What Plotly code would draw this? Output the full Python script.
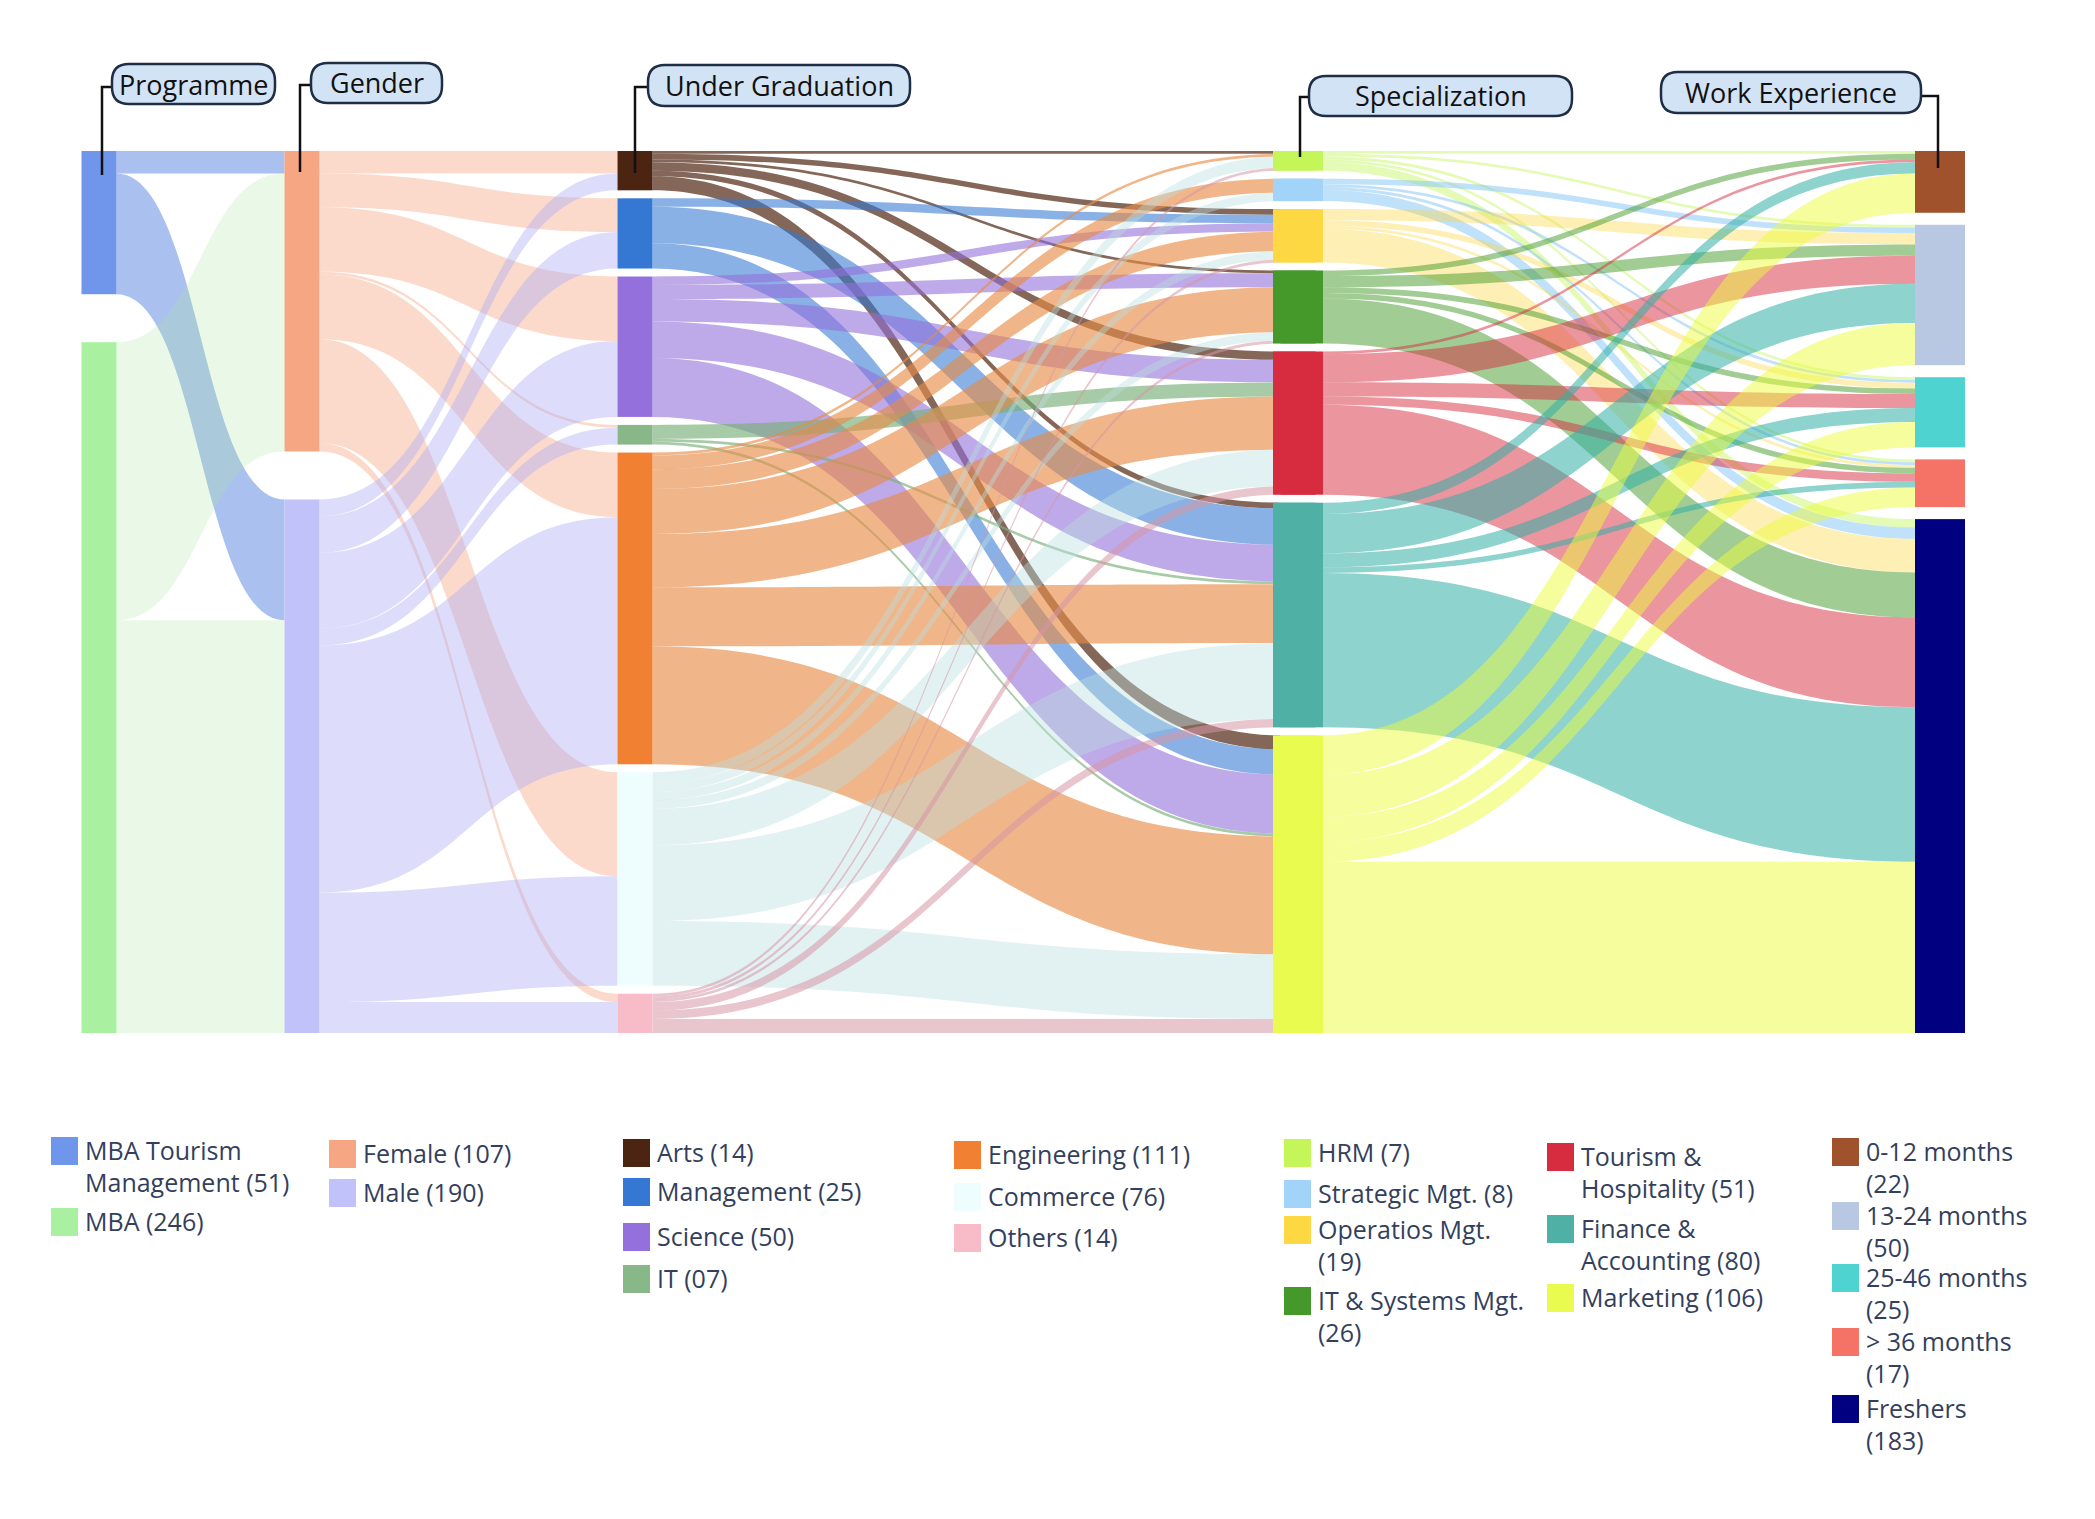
import plotly.graph_objects as go

# ---------------- data ----------------
programme = ["MBA Tourism Management", "MBA"]
gender = ["Female", "Male"]
under_graduation = ["Arts", "Management", "Science", "IT", "Engineering", "Commerce", "Others"]
specialization = ["HRM", "Strategic Mgt.", "Operatios Mgt.", "IT & Systems Mgt.",
                  "Tourism & Hospitality", "Finance & Accounting", "Marketing"]
work_experience = ["0-12 months", "13-24 months", "25-46 months", "> 36 months", "Freshers"]

# rows = source, columns = target
programme_to_gender = [[8, 43],
                       [99, 147]]
gender_to_ug = [[8, 12, 23, 1, 23, 37, 3],
                [6, 13, 27, 6, 88, 39, 11]]
ug_to_spec = [[1, 0, 2, 1, 3, 2, 5],        # Arts
              [0, 0, 3, 0, 0, 13, 9],       # Management
              [0, 0, 3, 5, 8, 13, 21],      # Science
              [0, 0, 0, 0, 5, 1, 1],        # IT
              [1, 5, 7, 16, 19, 21, 42],    # Engineering
              [4, 3, 3, 3, 13, 27, 23],     # Commerce
              [1, 0, 1, 1, 3, 3, 5]]        # Others
spec_to_work = [[1, 1, 1, 1, 3],            # HRM
                [0, 2, 1, 1, 4],            # Strategic
                [0, 4, 2, 1, 12],           # Operations
                [2, 4, 2, 2, 16],           # IT & Systems
                [1, 10, 5, 3, 32],          # Tourism & Hospitality
                [4, 14, 5, 2, 55],          # Finance & Accounting
                [14, 15, 9, 7, 61]]         # Marketing

stage_titles = ["Programme", "Gender", "Under Graduation", "Specialization", "Work Experience"]

legend_labels = [
    ["MBA Tourism", "Management (51)"], ["MBA (246)"],
    ["Female (107)"], ["Male (190)"],
    ["Arts (14)"], ["Management (25)"], ["Science (50)"], ["IT (07)"],
    ["Engineering (111)"], ["Commerce (76)"], ["Others (14)"],
    ["HRM (7)"], ["Strategic Mgt. (8)"], ["Operatios Mgt.", "(19)"], ["IT & Systems Mgt.", "(26)"],
    ["Tourism &", "Hospitality (51)"], ["Finance &", "Accounting (80)"], ["Marketing (106)"],
    ["0-12 months", "(22)"], ["13-24 months", "(50)"], ["25-46 months", "(25)"],
    ["> 36 months", "(17)"], ["Freshers", "(183)"],
]

# ---------------- styles ----------------
node_colors = ["#6f96eb", "#a9f0a0",
               "#f7a683", "#c2c2fa",
               "#4b2412", "#3478d4", "#9370db", "#88b888", "#f28032", "#eefefe", "#f8bcc8",
               "#c4f65a", "#a2d4fa", "#fdd843", "#44992a", "#d72b40", "#4fb0a6", "#e9fb4f",
               "#a0522d", "#b8c8e2", "#4fd3d1", "#f47266", "#000080"]
link_colors = ["rgba(100,140,225,0.55)", "rgba(170,230,160,0.25)",
               "rgba(247,166,131,0.42)", "rgba(175,175,245,0.42)",
               "rgba(85,45,25,0.72)", "rgba(52,120,212,0.58)", "rgba(147,112,219,0.6)",
               "rgba(120,175,120,0.65)", "rgba(232,140,70,0.63)", "rgba(185,222,222,0.42)",
               "rgba(215,150,165,0.55)",
               "rgba(196,246,90,0.45)", "rgba(130,195,245,0.5)", "rgba(253,216,67,0.4)",
               "rgba(68,153,42,0.5)", "rgba(215,43,64,0.5)", "rgba(50,175,165,0.55)",
               "rgba(236,252,60,0.5)"]

# page offset (browser body margin) and figure size
OFF = 8
FIG_W, FIG_H = 2095 - 2 * OFF, 1519 - 2 * OFF
TOP, BOTTOM = 151, 1033
PLOT_H = BOTTOM - TOP
COL_CENTERS = [99, 302, 635, 1298, 1940]
THICK_A, THICK_B = 35, 50
PAD = 8


def X(px):
    return (px - OFF) / FIG_W


def Y(py):
    return 1 - (py - OFF) / FIG_H


# ---------------- totals and positions ----------------
prog_tot = [sum(r) for r in programme_to_gender]
gend_tot = [sum(r) for r in gender_to_ug]
ug_tot = [sum(r) for r in ug_to_spec]
spec_tot = [sum(r) for r in spec_to_work]
work_tot = [sum(c) for c in zip(*spec_to_work)]
grand = sum(prog_tot)
max_nodes = max(len(under_graduation), len(specialization))
ky = (PLOT_H - (max_nodes - 1) * PAD) / grand


def column_y(values):
    n = len(values)
    gap = (PLOT_H - sum(values) * ky) / (n - 1)
    out, y = [], 0.0
    for v in values:
        h = v * ky
        out.append((y + h / 2) / PLOT_H)
        y += h + gap
    return out


cols_values = [prog_tot, gend_tot, ug_tot, spec_tot, work_tot]
cols_y = [column_y(v) for v in cols_values]

# ---------------- trace A: Programme -> Gender -> UG -> Specialization ----------------
names_a = programme + gender + under_graduation + specialization
offs_a = [0, len(programme), len(programme) + len(gender),
          len(programme) + len(gender) + len(under_graduation)]
left_a = COL_CENTERS[0] - THICK_A / 2
width_a = COL_CENTERS[3] + THICK_A / 2 - left_a
xa, ya = [], []
for ci in range(4):
    for yy in cols_y[ci]:
        xa.append((COL_CENTERS[ci] - left_a) / width_a)
        ya.append(yy)

src_a, tgt_a, val_a, lcol_a = [], [], [], []
for ci, mat in enumerate([programme_to_gender, gender_to_ug, ug_to_spec]):
    for i, row in enumerate(mat):
        for j, v in enumerate(row):
            if v > 0:
                s = offs_a[ci] + i
                src_a.append(s)
                tgt_a.append(offs_a[ci + 1] + j)
                val_a.append(v)
                lcol_a.append(link_colors[s])

trace_a = go.Sankey(
    domain=dict(x=[X(left_a), X(left_a + width_a)], y=[Y(BOTTOM), Y(TOP)]),
    arrangement="fixed",
    node=dict(label=[""] * len(names_a), customdata=names_a,
              hovertemplate="%{customdata}: %{value}<extra></extra>",
              color=node_colors[:len(names_a)], thickness=THICK_A, pad=PAD,
              line=dict(width=0), x=xa, y=ya),
    link=dict(source=src_a, target=tgt_a, value=val_a, color=lcol_a),
)

# ---------------- trace B: Specialization -> Work Experience ----------------
names_b = specialization + work_experience
spec_off = offs_a[3]
left_b = COL_CENTERS[3] - THICK_B / 2
width_b = COL_CENTERS[4] + THICK_B / 2 - left_b
xb = [(COL_CENTERS[3] - left_b) / width_b] * len(specialization) + \
     [(COL_CENTERS[4] - left_b) / width_b] * len(work_experience)
yb = cols_y[3] + cols_y[4]
src_b, tgt_b, val_b, lcol_b = [], [], [], []
for i, row in enumerate(spec_to_work):
    for j, v in enumerate(row):
        if v > 0:
            src_b.append(i)
            tgt_b.append(len(specialization) + j)
            val_b.append(v)
            lcol_b.append(link_colors[spec_off + i])

trace_b = go.Sankey(
    domain=dict(x=[X(left_b), X(left_b + width_b)], y=[Y(BOTTOM), Y(TOP)]),
    arrangement="fixed",
    node=dict(label=[""] * len(names_b), customdata=names_b,
              hovertemplate="%{customdata}: %{value}<extra></extra>",
              color=node_colors[spec_off:], thickness=THICK_B, pad=PAD,
              line=dict(width=0), x=xb, y=yb),
    link=dict(source=src_b, target=tgt_b, value=val_b, color=lcol_b),
)

fig = go.Figure([trace_a, trace_b])

# ---------------- stage header boxes ----------------
boxes = [(112, 64, 275, 104), (311, 63, 442, 103), (648, 65, 910, 106),
         (1309, 76, 1572, 116), (1661, 72, 1921, 113)]
connectors = [[(112, 87), (COL_CENTERS[0] + 3, 87), (COL_CENTERS[0] + 3, 175)],
              [(311, 85), (COL_CENTERS[1] - 2, 85), (COL_CENTERS[1] - 2, 172)],
              [(648, 87), (COL_CENTERS[2], 87), (COL_CENTERS[2], 173)],
              [(1309, 97), (COL_CENTERS[3] + 2, 97), (COL_CENTERS[3] + 2, 157)],
              [(1921, 96), (COL_CENTERS[4] - 2, 96), (COL_CENTERS[4] - 2, 168)]]


def rounded_path(x0, y0, x1, y1, r):
    p = lambda x, y: f"{X(x):.6f},{Y(y):.6f}"
    return (f"M {p(x0 + r, y0)} L {p(x1 - r, y0)} Q {p(x1, y0)} {p(x1, y0 + r)} "
            f"L {p(x1, y1 - r)} Q {p(x1, y1)} {p(x1 - r, y1)} "
            f"L {p(x0 + r, y1)} Q {p(x0, y1)} {p(x0, y1 - r)} "
            f"L {p(x0, y0 + r)} Q {p(x0, y0)} {p(x0 + r, y0)} Z")


shapes, annotations = [], []
for (x0, y0, x1, y1), title, pts in zip(boxes, stage_titles, connectors):
    path = "M " + " L ".join(f"{X(a):.6f},{Y(b):.6f}" for a, b in pts)
    shapes.append(dict(type="path", xref="paper", yref="paper", path=path,
                       line=dict(color="#111111", width=2.5)))
    shapes.append(dict(type="path", xref="paper", yref="paper",
                       path=rounded_path(x0, y0, x1, y1, 17),
                       fillcolor="#d3e3f6", line=dict(color="#1f2d45", width=2.5)))
    annotations.append(dict(x=X((x0 + x1) / 2), y=Y((y0 + y1) / 2), xref="paper", yref="paper",
                            text=title, showarrow=False, xanchor="center", yanchor="middle",
                            font=dict(family="Open Sans", size=27, color="#111111")))

# ---------------- legend ----------------
legend_columns = [
    (51, [(0, 1150), (1, 1221)]),
    (329, [(2, 1153), (3, 1192)]),
    (623, [(4, 1152), (5, 1191), (6, 1236), (7, 1278)]),
    (954, [(8, 1154), (9, 1196), (10, 1237)]),
    (1284, [(11, 1152), (12, 1193), (13, 1229), (14, 1300)]),
    (1547, [(15, 1156), (16, 1228), (17, 1297)]),
    (1832, [(18, 1151), (19, 1215), (20, 1277), (21, 1341), (22, 1408)]),
]
SQ_W, SQ_H, LINE_H = 27, 28, 32
for xs, items in legend_columns:
    for idx, yc in items:
        shapes.append(dict(type="rect", xref="paper", yref="paper",
                           x0=X(xs), x1=X(xs + SQ_W), y0=Y(yc + 1 - SQ_H / 2), y1=Y(yc + 1 + SQ_H / 2),
                           fillcolor=node_colors[idx], line=dict(width=0)))
        for k, line in enumerate(legend_labels[idx]):
            annotations.append(dict(x=X(xs + SQ_W + 5), y=Y(yc + k * LINE_H), xref="paper", yref="paper",
                                    text=line, showarrow=False, xanchor="left", yanchor="middle",
                                    font=dict(family="Open Sans", size=25, color="#333f5c")))

fig.update_layout(width=FIG_W, height=FIG_H, margin=dict(l=0, r=0, t=0, b=0),
                  paper_bgcolor="white", plot_bgcolor="white",
                  shapes=shapes, annotations=annotations,
                  font=dict(family="Open Sans"))

fig.write_html("out.html")
